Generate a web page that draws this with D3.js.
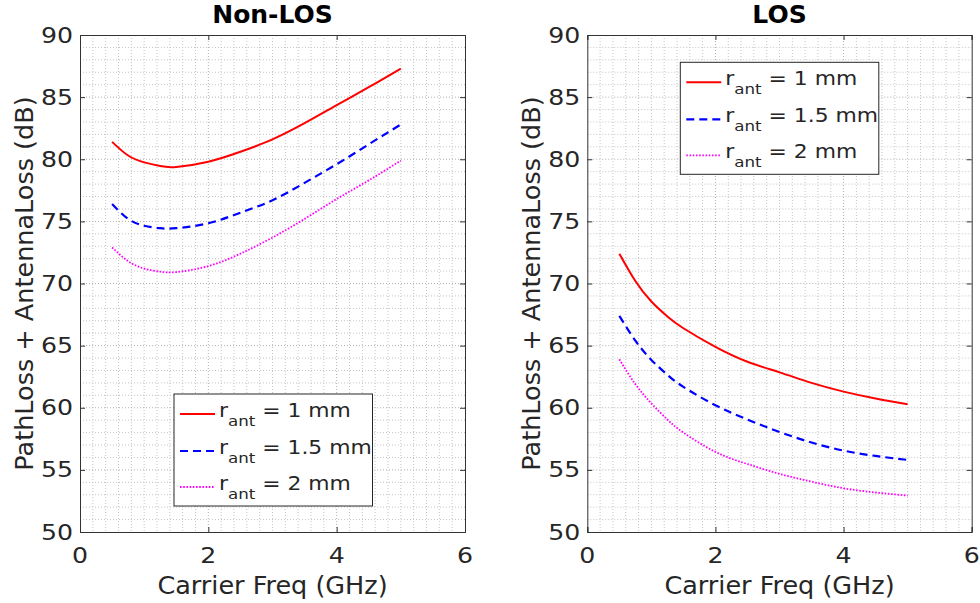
<!DOCTYPE html>
<html><head><meta charset="utf-8">
<script src="https://cdn.jsdelivr.net/npm/d3@7/dist/d3.min.js"></script>
<style>body{margin:0;background:#fff} svg{display:block}</style>
</head><body>
<svg id="chart" width="980" height="603"></svg>
<script>
// ---- data ----
const freqGHz = [0.5, 0.75, 1, 1.25, 1.5, 2, 2.5, 3, 3.5, 4, 4.5, 5];
const nlos_r1mm   = [81.4, 80.3, 79.75, 79.45, 79.38, 79.8, 80.6, 81.6, 82.9, 84.35, 85.8, 87.3];
const nlos_r1_5mm = [76.4, 75.2, 74.65, 74.45, 74.45, 74.85, 75.7, 76.7, 78.1, 79.6, 81.2, 82.8];
const nlos_r2mm   = [72.9, 71.8, 71.2, 70.95, 70.92, 71.4, 72.4, 73.7, 75.2, 76.8, 78.3, 79.9];
const los_r1mm    = [72.4, 70.2, 68.55, 67.35, 66.4, 64.9, 63.7, 62.85, 62.0, 61.3, 60.75, 60.28];
const los_r1_5mm  = [67.4, 65.4, 63.85, 62.65, 61.68, 60.2, 59.05, 58.05, 57.2, 56.55, 56.12, 55.8];
const los_r2mm    = [63.9, 61.9, 60.35, 59.05, 58.0, 56.45, 55.47, 54.68, 54.05, 53.52, 53.18, 52.93];
const seriesLabels = ["1 mm", "1.5 mm", "2 mm"];
const panelTitles = ["Non-LOS", "LOS"];
const xTicks = [0, 2, 4, 6];
const yTicks = [50, 55, 60, 65, 70, 75, 80, 85, 90];
const xLabel = "Carrier Freq (GHz)";
const yLabel = "PathLoss + AntennaLoss (dB)";

// ---- layout / style ----
const svg = d3.select("#chart");
svg.append("rect").attr("width", 980).attr("height", 603).attr("fill", "#fff");
const FONT = "'DejaVu Sans', Verdana, sans-serif";
const TXT = "#262626";
const plotTop = 35, plotBottom = 532;
const styles = [
  {color: "#ff0000", dash: null, width: 2},
  {color: "#0000ff", dash: "8,5", width: 2.2},
  {color: "#ff00ff", dash: "1.6,1.6", width: 1.8}
];
const panels = [
  {title: panelTitles[0], x0: 80, x1: 465, series: [nlos_r1mm, nlos_r1_5mm, nlos_r2mm], lx: 174, ly: 394},
  {title: panelTitles[1], x0: 587.3, x1: 971.7, series: [los_r1mm, los_r1_5mm, los_r2mm], lx: 680.3, ly: 62.3}
];

function stext(g, x, y, str, size, sx, anchor, extra) {
  const t = g.append("text")
    .attr("transform", `translate(${x},${y}) scale(${sx},1)`)
    .attr("text-anchor", anchor)
    .attr("font-family", FONT)
    .attr("font-size", size)
    .attr("fill", TXT)
    .text(str);
  if (extra) extra(t);
  return t;
}

panels.forEach(p => {
  const g = svg.append("g");
  const x = d3.scaleLinear().domain([0, 6]).range([p.x0, p.x1]);
  const y = d3.scaleLinear().domain([50, 90]).range([plotBottom, plotTop]);

  // minor grid
  const minorX = d3.range(0, 6.0001, 0.2).filter(v => Math.abs(v / 2 - Math.round(v / 2)) > 1e-6);
  const minorY = d3.range(50, 90.001, 1).filter(v => v % 5 !== 0);
  g.selectAll(".mgx").data(minorX).join("line")
    .attr("x1", d => x(d)).attr("x2", d => x(d)).attr("y1", plotTop).attr("y2", plotBottom)
    .attr("stroke", "#c4c4c4").attr("stroke-width", 1).attr("stroke-dasharray", "1,2");
  g.selectAll(".mgy").data(minorY).join("line")
    .attr("y1", d => y(d)).attr("y2", d => y(d)).attr("x1", p.x0).attr("x2", p.x1)
    .attr("stroke", "#c4c4c4").attr("stroke-width", 1).attr("stroke-dasharray", "1,2");
  // major grid
  g.selectAll(".gx").data(xTicks.slice(1, -1)).join("line")
    .attr("x1", d => x(d)).attr("x2", d => x(d)).attr("y1", plotTop).attr("y2", plotBottom)
    .attr("stroke", "#b0b0b0").attr("stroke-width", 1).attr("stroke-dasharray", "1,2");
  g.selectAll(".gy").data(yTicks.slice(1, -1)).join("line")
    .attr("y1", d => y(d)).attr("y2", d => y(d)).attr("x1", p.x0).attr("x2", p.x1)
    .attr("stroke", "#b0b0b0").attr("stroke-width", 1).attr("stroke-dasharray", "1,2");

  // axes via d3 axis (inward ticks)
  const ax = g.append("g");
  ax.append("g").attr("transform", `translate(0,${plotBottom})`)
    .call(d3.axisBottom(x).tickValues(xTicks).tickSize(-5).tickFormat(""));
  ax.append("g").attr("transform", `translate(0,${plotTop})`)
    .call(d3.axisTop(x).tickValues(xTicks).tickSize(-5).tickFormat(""));
  ax.append("g").attr("transform", `translate(${p.x0},0)`)
    .call(d3.axisLeft(y).tickValues(yTicks).tickSize(-5).tickFormat(""));
  ax.append("g").attr("transform", `translate(${p.x1},0)`)
    .call(d3.axisRight(y).tickValues(yTicks).tickSize(-5).tickFormat(""));
  ax.selectAll("path").attr("stroke", "#333").attr("stroke-width", 1);
  ax.selectAll("line").attr("stroke", "#333").attr("stroke-width", 1);

  // tick labels
  xTicks.forEach(v => stext(g, x(v), plotBottom + 30.7, String(v), 21, 1.2, "middle"));
  yTicks.forEach(v => stext(g, p.x0 - 7, y(v) + 7.6, String(v), 21, 1.2, "end"));

  // axis labels
  stext(g, (p.x0 + p.x1) / 2, 594, xLabel, 25.5, 1, "middle");
  g.append("text")
    .attr("transform", `translate(${p.x0 - 47},283.5) rotate(-90)`)
    .attr("text-anchor", "middle").attr("font-family", FONT).attr("font-size", 25.5)
    .attr("fill", TXT).text(yLabel);

  // title
  stext(g, (p.x0 + p.x1) / 2, 23.3, p.title, 25, 1, "middle", t => t.attr("font-weight", "bold").attr("fill", "#000"));

  // curves
  p.series.forEach((vals, i) => {
    const line = d3.line().x((d, k) => x(freqGHz[k])).y(d => y(d)).curve(d3.curveNatural);
    g.append("path").datum(vals).attr("d", line)
      .attr("fill", "none").attr("stroke", styles[i].color)
      .attr("stroke-width", styles[i].width)
      .attr("stroke-dasharray", styles[i].dash);
  });

  // legend
  const lg = g.append("g").attr("transform", `translate(${p.lx},${p.ly})`);
  lg.append("rect").attr("x", 0).attr("y", 0).attr("width", 198.5).attr("height", 112)
    .attr("fill", "#fff").attr("stroke", "#262626").attr("stroke-width", 1);
  const rowY = [20, 57, 93];
  seriesLabels.forEach((lab, i) => {
    lg.append("line").attr("x1", 6).attr("x2", 41).attr("y1", rowY[i]).attr("y2", rowY[i])
      .attr("stroke", styles[i].color).attr("stroke-width", styles[i].width)
      .attr("stroke-dasharray", styles[i].dash);
    const t = lg.append("text")
      .attr("transform", `translate(45,${rowY[i] + 3})scale(1.15,1)`)
      .attr("font-family", FONT).attr("font-size", 19).attr("fill", TXT);
    t.append("tspan").text("r");
    t.append("tspan").attr("dy", 9).attr("font-size", 14.5).text("ant");
    t.append("tspan").attr("dy", -9).attr("font-size", 19).text(" = " + lab);
  });
});
</script>
</body></html>
